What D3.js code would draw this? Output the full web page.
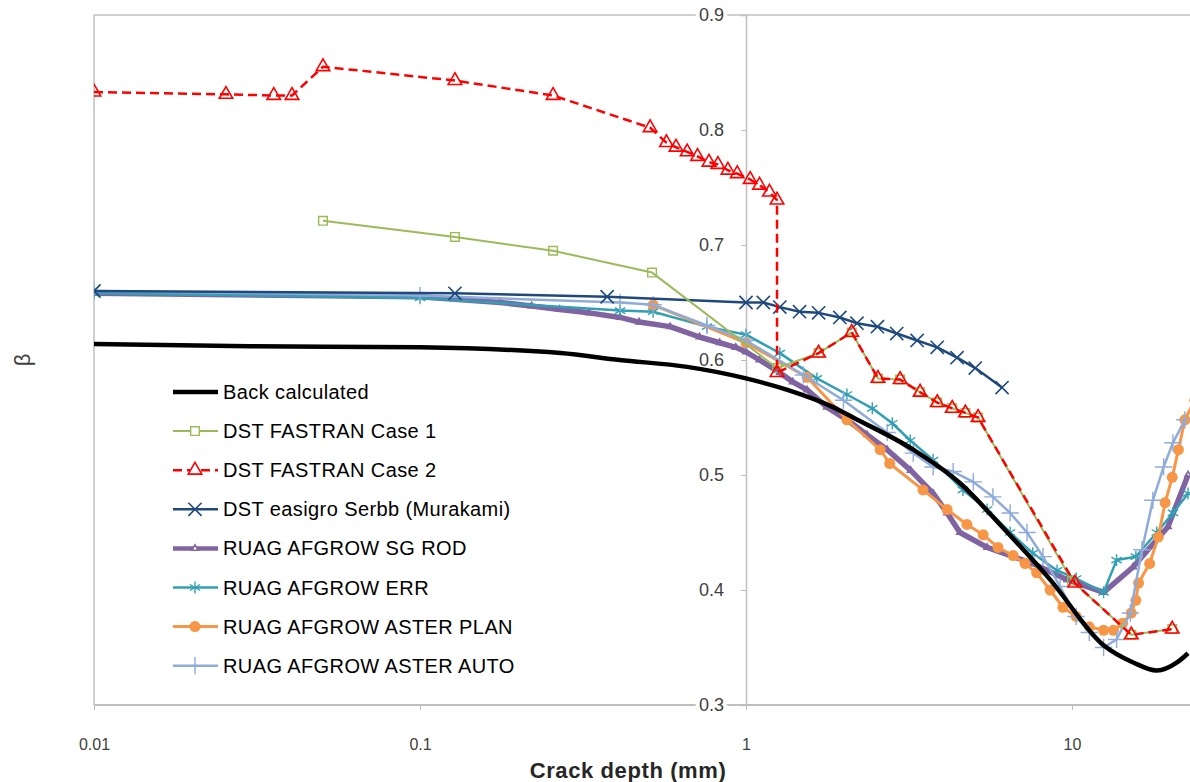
<!DOCTYPE html>
<html>
<head>
<meta charset="utf-8">
<script src="https://cdn.jsdelivr.net/npm/d3@7"></script>
<style>
  body { margin: 0; background: #fff; }
  svg { display: block; font-family: "Liberation Sans", Arial, sans-serif; }
</style>
</head>
<body>
<svg id="chart" width="1190" height="782"></svg>
<script>
// values, [crack depth (mm), beta]
const backCalculated = [[0.01,0.614],[0.03,0.612],[0.1,0.611],[0.27,0.606],[0.41,0.600],[0.66,0.594],[1.0,0.584],[1.34,0.574],[1.85,0.559],[2.13,0.550],[3.26,0.522],[4.53,0.493],[6.01,0.457],[8.57,0.409],[12.5,0.352],[15.4,0.337],[18.2,0.330],[21.0,0.337],[22.7,0.345]];
const fastranCase1 = [[0.0504,0.721],[0.128,0.707],[0.256,0.695],[0.515,0.676],[1.245,0.593],[1.67,0.606],[2.11,0.624],[2.54,0.584],[2.97,0.583],[3.42,0.572],[3.86,0.563],[4.29,0.558],[4.71,0.554],[5.15,0.550],[10.0,0.408],[15.2,0.361],[20.3,0.366]];
const fastranCase2 = [[0.01,0.833],[0.0254,0.831],[0.0356,0.830],[0.0405,0.830],[0.0504,0.855],[0.128,0.843],[0.256,0.830],[0.508,0.802],[0.57,0.789],[0.61,0.785],[0.66,0.781],[0.71,0.777],[0.77,0.772],[0.82,0.770],[0.88,0.765],[0.94,0.762],[1.03,0.757],[1.10,0.752],[1.18,0.746],[1.245,0.739],[1.245,0.589],[1.67,0.606],[2.11,0.624],[2.54,0.584],[2.97,0.583],[3.42,0.572],[3.86,0.563],[4.29,0.558],[4.71,0.554],[5.15,0.550],[10.2,0.406],[15.2,0.361],[20.3,0.366]];
const easigroSerbb = [[0.01,0.660],[0.128,0.658],[0.375,0.655],[1.0,0.650],[1.13,0.650],[1.27,0.646],[1.46,0.642],[1.67,0.641],[1.94,0.637],[2.19,0.632],[2.53,0.629],[2.90,0.623],[3.35,0.617],[3.86,0.611],[4.44,0.602],[5.05,0.593],[6.10,0.576]];
const afgrowSgRod = [[0.01,0.658],[0.1,0.655],[0.176,0.650],[0.22,0.647],[0.268,0.644],[0.33,0.641],[0.411,0.637],[0.47,0.633],[0.585,0.629],[0.72,0.620],[0.83,0.615],[0.93,0.611],[1.0,0.607],[1.10,0.600],[1.27,0.589],[1.39,0.581],[1.54,0.574],[1.77,0.559],[2.04,0.548],[2.35,0.535],[2.71,0.522],[3.2,0.504],[3.75,0.484],[4.14,0.467],[4.53,0.450],[5.49,0.437],[7.58,0.423],[9.66,0.409],[12.5,0.398],[15.4,0.420],[19.7,0.455],[22.7,0.500]];
const afgrowErr = [[0.01,0.658],[0.1,0.654],[0.411,0.643],[0.519,0.642],[0.759,0.629],[1.0,0.622],[1.27,0.606],[1.65,0.584],[2.04,0.570],[2.44,0.558],[2.81,0.545],[3.19,0.530],[3.75,0.513],[4.63,0.487],[5.49,0.470],[6.46,0.450],[7.58,0.432],[9.0,0.417],[10.3,0.410],[12.5,0.398],[13.7,0.426],[15.7,0.429],[18.2,0.450],[20.4,0.467],[22.7,0.484]];
const afgrowAsterPlan = [[0.519,0.648],[1.0,0.615],[1.54,0.585],[2.04,0.548],[2.58,0.522],[2.76,0.510],[3.49,0.487],[4.14,0.470],[4.76,0.457],[5.34,0.448],[5.93,0.437],[6.6,0.430],[7.18,0.423],[7.79,0.415],[8.57,0.400],[9.38,0.385],[10.3,0.377],[11.3,0.368],[12.5,0.365],[13.4,0.365],[14.3,0.371],[15.2,0.380],[15.7,0.391],[16.0,0.406],[17.3,0.423],[18.4,0.446],[19.3,0.476],[20.3,0.498],[21.2,0.522],[22.2,0.548],[23.8,0.565]];
const afgrowAsterAuto = [[0.01,0.660],[0.1,0.656],[0.411,0.650],[0.519,0.648],[0.759,0.630],[1.0,0.617],[1.50,0.587],[1.99,0.565],[2.71,0.537],[3.26,0.519],[3.75,0.507],[4.32,0.503],[4.98,0.494],[5.72,0.481],[6.46,0.467],[7.28,0.450],[8.15,0.429],[9.19,0.403],[10.3,0.377],[11.3,0.363],[12.5,0.350],[13.7,0.357],[15.1,0.380],[16.4,0.435],[17.7,0.478],[19.1,0.507],[20.4,0.528],[22.2,0.548]];

const seriesNames = ["Back calculated", "DST FASTRAN Case 1", "DST FASTRAN Case 2", "DST easigro Serbb (Murakami)",
  "RUAG AFGROW SG ROD", "RUAG AFGROW ERR", "RUAG AFGROW ASTER PLAN", "RUAG AFGROW ASTER AUTO"];
const xTicks = [0.01, 0.1, 1, 10];
const yTicks = [0.3, 0.4, 0.5, 0.6, 0.7, 0.8, 0.9];

var svg = d3.select("#chart");
var x = d3.scaleLog().domain([0.01, 100]).range([94, 1398]);
var y = d3.scaleLinear().domain([0.3, 0.9]).range([705, 15]);

var sym = (s, fallback) => s || fallback;

var series = [
  {name: seriesNames[0], data: backCalculated, color: "#000000", width: 4.5, curve: d3.curveMonotoneX},
  {name: seriesNames[1], data: fastranCase1, color: "#9BBB59", width: 2, symbol: sym(d3.symbolSquare2, d3.symbolSquare), size: 95, fill: "none", sw: 1.4},
  {name: seriesNames[2], data: fastranCase2, color: "#FF0000", width: 2.5, dash: "9,5", symbol: sym(d3.symbolTriangle2, d3.symbolTriangle), size: 130, fill: "none", sw: 1.6},
  {name: seriesNames[3], data: easigroSerbb, color: "#1F497D", width: 2.5, symbol: sym(d3.symbolTimes, d3.symbolCross), size: 115, fill: "none", sw: 1.6},
  {name: seriesNames[4], data: afgrowSgRod, color: "#8064A2", width: 5.5, symbol: sym(d3.symbolTriangle2, d3.symbolTriangle), size: 28, fill: "none", sw: 1.6},
  {name: seriesNames[5], data: afgrowErr, color: "#31A0B4", width: 2.5, symbol: sym(d3.symbolAsterisk, d3.symbolStar), size: 100, fill: "none", sw: 1.4},
  {name: seriesNames[6], data: afgrowAsterPlan, color: "#F79646", width: 3, symbol: d3.symbolCircle, size: 95, fill: "#F79646", sw: 0},
  {name: seriesNames[7], data: afgrowAsterAuto, color: "#8EABD9", width: 2.5, symbol: sym(d3.symbolPlus, d3.symbolCross), size: 100, fill: "none", sw: 1.4}
];

// plot frame
var frame = svg.append("g").attr("stroke", "#BFBFBF").attr("stroke-width", 1.5);
frame.append("line").attr("x1", x(0.01)).attr("x2", x(0.01)).attr("y1", y(0.9)).attr("y2", y(0.3));
frame.append("line").attr("x1", x(0.01)).attr("x2", 1190).attr("y1", y(0.9)).attr("y2", y(0.9));
frame.append("line").attr("x1", x(0.01)).attr("x2", 1190).attr("y1", y(0.3)).attr("y2", y(0.3)).attr("stroke-width", 2);

// y axis sits at x = 1
var yAxis = svg.append("g")
  .attr("transform", "translate(" + x(1) + ",0)")
  .call(d3.axisLeft(y).tickValues(yTicks).tickSize(5).tickPadding(17).tickFormat(d3.format(".1f")));
yAxis.select(".domain").attr("stroke", "#BFBFBF").attr("stroke-width", 1.5);
yAxis.selectAll(".tick line").attr("stroke", "#BFBFBF");
yAxis.selectAll(".tick text")
  .attr("fill", "#404040")
  .style("font-size", "18px")
  .style("paint-order", "stroke")
  .attr("stroke", "#fff").attr("stroke-width", 8);

var xAxis = svg.append("g")
  .attr("transform", "translate(0," + y(0.3) + ")")
  .call(d3.axisBottom(x).tickValues(xTicks).tickSize(5).tickPadding(29).tickFormat(d => String(d)));
xAxis.select(".domain").remove();
xAxis.selectAll(".tick line").attr("stroke", "#BFBFBF");
xAxis.selectAll(".tick text").attr("fill", "#404040").style("font-size", "16px");

svg.append("text")
  .attr("x", 628).attr("y", 778)
  .attr("text-anchor", "middle")
  .attr("fill", "#262626")
  .style("font-size", "22px").style("font-weight", "bold")
  .style("letter-spacing", "0.6px")
  .text("Crack depth (mm)");

svg.append("text")
  .attr("transform", "translate(30,360) rotate(-90)")
  .attr("text-anchor", "middle")
  .attr("fill", "#404040")
  .style("font-size", "22px")
  .text("β");

// series
svg.append("clipPath").attr("id", "plot-clip")
  .append("rect").attr("x", x(0.01)).attr("y", 0).attr("width", 1200).attr("height", y(0.3) + 2);

var plot = svg.append("g").attr("clip-path", "url(#plot-clip)");
var drawOrder = [4, 5, 6, 7, 3, 0, 1, 2];

drawOrder.forEach(function(i) {
  var s = series[i];
  var line = d3.line().x(d => x(d[0])).y(d => y(d[1]));
  if (s.curve) line.curve(s.curve);
  plot.append("path")
    .datum(s.data)
    .attr("fill", "none")
    .attr("stroke", s.color)
    .attr("stroke-width", s.width)
    .attr("stroke-dasharray", s.dash || null)
    .attr("stroke-linejoin", "round")
    .attr("d", line);
  if (s.symbol) {
    plot.selectAll(".m" + i)
      .data(s.data)
      .enter().append("path")
      .attr("class", "m" + i)
      .attr("transform", d => "translate(" + x(d[0]) + "," + y(d[1]) + ")")
      .attr("d", d3.symbol().type(s.symbol).size(s.size))
      .attr("fill", s.fill)
      .attr("stroke", s.sw ? s.color : "none")
      .attr("stroke-width", s.sw);
  }
});

// legend
var legend = svg.append("g").attr("transform", "translate(173,392)");
series.forEach(function(s, i) {
  var row = legend.append("g").attr("transform", "translate(0," + (i * 39.1) + ")");
  row.append("line")
    .attr("x1", 0).attr("x2", 45)
    .attr("stroke", s.color)
    .attr("stroke-width", Math.min(s.width, 4.5))
    .attr("stroke-dasharray", s.dash || null);
  if (s.symbol) {
    row.append("path")
      .attr("transform", "translate(22,0)")
      .attr("d", d3.symbol().type(s.symbol).size(s.size))
      .attr("fill", s.fill === "none" ? "#fff" : s.fill)
      .attr("stroke", s.sw ? s.color : "none")
      .attr("stroke-width", s.sw);
  }
  row.append("text")
    .attr("x", 50).attr("y", 7)
    .attr("fill", "#000")
    .style("font-size", "20px")
    .style("letter-spacing", "0.4px")
    .text(s.name);
});
</script>
</body>
</html>
